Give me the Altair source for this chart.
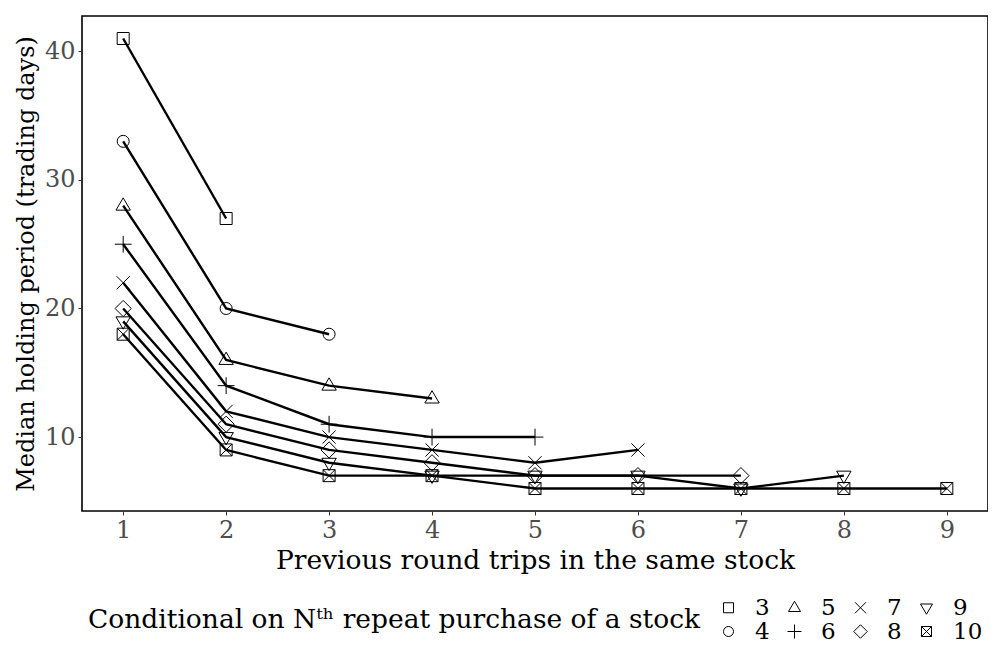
import altair as alt
import pandas as pd

# Conditional on N-th repeat purchase; x = previous round trips (1..N-1)
series_n = [3, 4, 5, 6, 7, 8, 9, 10]
median_hold = {
    3: [41, 27],
    4: [33, 20, 18],
    5: [28, 16, 14, 13],
    6: [25, 14, 11, 10, 10],
    7: [22, 12, 10, 9, 8, 9],
    8: [20, 11, 9, 8, 7, 7, 7],
    9: [19, 10, 8, 7, 7, 7, 6, 7],
    10: [18, 9, 7, 7, 6, 6, 6, 6, 6],
}
x_ticks = [1, 2, 3, 4, 5, 6, 7, 8, 9]
y_ticks = [10, 20, 30, 40]

rows = []
for n in series_n:
    for i, v in enumerate(median_hold[n]):
        rows.append({"N": str(n), "trips": i + 1, "hold": v})
df = pd.DataFrame(rows)

# legend order (column-major fill of a 2x4 grid)
legend_order = ["3", "5", "7", "9", "4", "6", "8", "10"]
shape_map = {
    "3": "M-1,-1L1,-1L1,1L-1,1Z",
    "4": "circle",
    "5": "M0,-1.3L1.2,0.75L-1.2,0.75Z",
    "6": "M-1.4,0L1.4,0M0,-1.4L0,1.4",
    "7": "M-1.1,-1.1L1.1,1.1M-1.1,1.1L1.1,-1.1",
    "8": "M0,-1.35L1.35,0L0,1.35L-1.35,0Z",
    "9": "M0,1.3L1.2,-0.75L-1.2,-0.75Z",
    "10": "M-1,-1L1,-1L1,1L-1,1ZM-1,-1L1,1M-1,1L1,-1",
}
shape_range = [shape_map[k] for k in legend_order]

FONT = "DejaVu Serif"

x_enc = alt.X(
    "trips:Q",
    scale=alt.Scale(domain=[0.6, 9.4], nice=False, zero=False),
    axis=alt.Axis(values=x_ticks, title="Previous round trips in the same stock", format="d"),
)
y_enc = alt.Y(
    "hold:Q",
    scale=alt.Scale(domain=[4.25, 42.75], nice=False, zero=False),
    axis=alt.Axis(values=y_ticks, title="Median holding period (trading days)"),
)

lines = alt.Chart(df).mark_line(color="black", strokeWidth=2.4).encode(
    x=x_enc, y=y_enc, detail="N:N"
)

points = alt.Chart(df).mark_point(
    filled=False, color="black", strokeWidth=1, size=144, opacity=1
).encode(
    x=x_enc,
    y=y_enc,
    shape=alt.Shape(
        "N:N",
        scale=alt.Scale(domain=legend_order, range=shape_range),
        legend=alt.Legend(
            title="Conditional on N\u1d57\u02b0 repeat purchase of a stock",
            orient="none",
            legendX=6,
            legendY=580,
            columns=4,
            direction="horizontal",
            titleOrient="left",
            titleAnchor="middle",
            titleBaseline="middle",
            titleFontSize=26.5,
            titleFontWeight="normal",
            titleColor="black",
            titleFont=FONT,
            titleLimit=900,
            titlePadding=16,
            labelFontSize=23,
            labelColor="black",
            labelFont=FONT,
            labelOffset=15,
            symbolSize=100,
            symbolStrokeWidth=1,
            symbolStrokeColor="black",
            symbolFillColor="transparent",
            columnPadding=13,
            rowPadding=0,
            symbolOpacity=1,
        ),
    ),
)

chart = (
    alt.layer(lines, points)
    .properties(
        width=906,
        height=495,
        autosize=alt.AutoSizeParams(type="none"),
        padding={"left": 74, "top": 8, "right": 0, "bottom": 131},
    )
    .configure_view(stroke="black", strokeWidth=1.6)
    .configure_axis(
        grid=False,
        domain=False,
        tickColor="#333333",
        tickSize=4,
        labelColor="#4D4D4D",
        labelFontSize=24,
        labelFont=FONT,
        titleFont=FONT,
        titleFontSize=24,
        titleFontWeight="normal",
        titleColor="black",
    )
    .configure_axisX(labelPadding=3, titlePadding=5, titleFontSize=26.5)
    .configure_axisY(labelPadding=3, titlePadding=6)
)

chart.save("out.html", embed_options={"renderer": "svg", "actions": False})
